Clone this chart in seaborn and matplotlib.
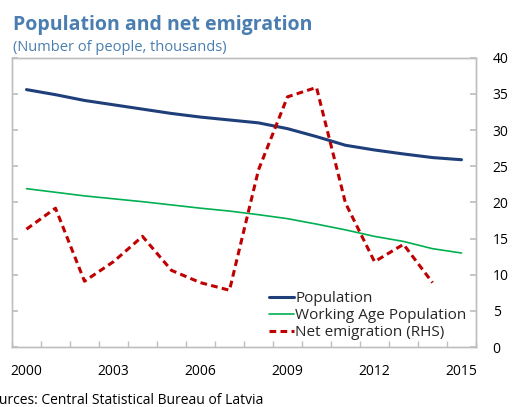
import numpy as np
import pandas as pd
import matplotlib
matplotlib.use("Agg")
import matplotlib.pyplot as plt
import seaborn as sns

# Datos (miles de personas)
years = list(range(2000, 2016))
population = [35.6, 34.9, 34.1, 33.5, 32.9, 32.3, 31.8, 31.4, 31.0, 30.2,
              29.1, 27.9, 27.25, 26.7, 26.2, 25.9]
working_age = [21.9, 21.4, 20.9, 20.5, 20.1, 19.65, 19.2, 18.8, 18.3, 17.75,
               17.0, 16.2, 15.3, 14.6, 13.6, 13.0]
net_emigration = [16.3, 19.2, 9.1, 11.8, 15.3, 10.6, 8.9, 7.85, 24.5, 34.6,
                  35.9, 19.9, 11.8, 14.2, 8.9, np.nan]
year_labels = [2000, 2003, 2006, 2009, 2012, 2015]

df = pd.DataFrame({"year": years, "population": population,
                   "working_age": working_age, "net_emigration": net_emigration})

sns.set_theme(style="white")
plt.rcParams["font.family"] = ["Open Sans", "DejaVu Sans"]

fig = plt.figure(figsize=(5.12, 4.07), dpi=100)
ax = fig.add_axes([0.0234, 0.1474, 0.9063, 0.7106])
ax2 = ax.twinx()

sns.lineplot(data=df, x="year", y="population", ax=ax, color="#1F3F7A",
             linewidth=2.2, label="Population", legend=False)
sns.lineplot(data=df, x="year", y="working_age", ax=ax, color="#00B050",
             linewidth=1.2, label="Working Age Population", legend=False)
sns.lineplot(data=df, x="year", y="net_emigration", ax=ax2, color="#C00000",
             linewidth=2.2, linestyle=(0, (2.2, 1.4)), label="Net emigration (RHS)",
             legend=False)

for a in (ax, ax2):
    a.set_xlim(1999.5, 2015.5)
    a.set_ylim(0, 40)
    a.set_yticks(range(0, 41, 5))
    a.set_xlabel("")
    a.set_ylabel("")
    for s in a.spines.values():
        s.set_color("#BFBFBF")
        s.set_linewidth(1.0)

ax.set_yticklabels([])
ax.tick_params(axis="y", direction="in", length=4, color="#BFBFBF", left=True)
ax2.tick_params(axis="y", direction="in", length=4, color="#BFBFBF", right=True,
                pad=12, labelsize=10, labelcolor="black")

ax.set_xticks(year_labels)
ax.set_xticklabels([str(y) for y in year_labels], fontsize=10)
ax.set_xticks(np.arange(1999.5, 2015.6, 1), minor=True)
ax.tick_params(axis="x", which="major", length=0, pad=12, labelcolor="black")
ax.tick_params(axis="x", which="minor", direction="in", length=4,
               color="#BFBFBF", bottom=True)

h1, l1 = ax.get_legend_handles_labels()
h2, l2 = ax2.get_legend_handles_labels()
ax2.legend(h1 + h2, l1 + l2, loc="lower left", bbox_to_anchor=(0.54, 0.0),
           frameon=False, fontsize=11, handlelength=1.6, handletextpad=0.1,
           labelspacing=0.12, borderaxespad=0.05)

fig.text(0.025, 0.938, "Population and net emigration", fontsize=14,
         fontweight="bold", color="#4A7EB0", va="center")
fig.text(0.025, 0.884, "(Number of people, thousands)", fontsize=10.5,
         color="#4A7EB0", va="center")
fig.text(0.514, 0.017, "Sources: Central Statistical Bureau of Latvia",
         fontsize=10, ha="right", va="center", color="black")

fig.savefig("out.png", dpi=100)
